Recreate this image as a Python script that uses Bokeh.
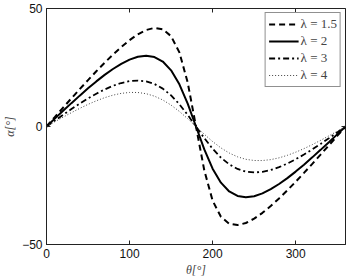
from bokeh.plotting import figure
from bokeh.models import LinearAxis, FixedTicker, Legend, LegendItem, Range1d, CustomJSTickFormatter
from bokeh.embed import file_html
from bokeh.resources import INLINE

# azimuth angle theta [deg]
theta = [0, 10, 20, 30, 40, 50, 60, 70, 80, 90, 100, 110, 120, 130, 140, 150, 160, 170,
         180, 190, 200, 210, 220, 230, 240, 250, 260, 270, 280, 290, 300, 310, 320, 330, 340, 350, 360]

# angle of attack alpha [deg] for each advance ratio
alpha_15 = [0.0, 4.00, 7.98, 11.93, 15.84, 19.67, 23.41, 27.02, 30.47, 33.69, 36.59, 39.06, 40.89, 41.78, 41.21, 38.27, 31.40, 18.63,
            0.0, -18.63, -31.40, -38.27, -41.21, -41.78, -40.89, -39.06, -36.59, -33.69, -30.47, -27.02, -23.41, -19.67, -15.84, -11.93, -7.98, -4.00, 0.0]
alpha_2 = [0.0, 3.33, 6.64, 9.90, 13.08, 16.17, 19.11, 21.86, 24.37, 26.57, 28.34, 29.55, 30.00, 29.44, 27.52, 23.79, 17.88, 9.71,
           0.0, -9.71, -17.88, -23.79, -27.52, -29.44, -30.00, -29.55, -28.34, -26.57, -24.37, -21.86, -19.11, -16.17, -13.08, -9.90, -6.64, -3.33, 0.0]
alpha_3 = [0.0, 2.50, 4.96, 7.37, 9.69, 11.88, 13.90, 15.70, 17.24, 18.43, 19.21, 19.47, 19.11, 18.00, 16.05, 13.19, 9.43, 4.92,
           0.0, -4.92, -9.43, -13.19, -16.05, -18.00, -19.11, -19.47, -19.21, -18.43, -17.24, -15.70, -13.90, -11.88, -9.69, -7.37, -4.96, -2.50, 0.0]
alpha_4 = [0.0, 2.00, 3.96, 5.87, 7.68, 9.37, 10.89, 12.21, 13.28, 14.04, 14.43, 14.41, 13.90, 12.85, 11.24, 9.06, 6.38, 3.30,
           0.0, -3.30, -6.38, -9.06, -11.24, -12.85, -13.90, -14.41, -14.43, -14.04, -13.28, -12.21, -10.89, -9.37, -7.68, -5.87, -3.96, -2.00, 0.0]

labels = ["λ = 1.5", "λ = 2", "λ = 3", "λ = 4"]
x_ticks = [0, 100, 200, 300]
y_ticks = [-50, 0, 50]

p = figure(width=348, height=280, output_backend="svg", toolbar_location=None,
           x_range=Range1d(0, 360), y_range=Range1d(-50, 50),
           min_border_left=43, min_border_right=3, min_border_top=8, min_border_bottom=36)
p.background_fill_color = "white"
p.border_fill_color = "white"
p.outline_line_color = "#222222"
p.outline_line_width = 1
p.xgrid.visible = False
p.ygrid.visible = False

# tick labels with a proper minus sign
minus_fmt = CustomJSTickFormatter(code="return tick < 0 ? '\\u2212' + Math.abs(tick) : String(tick);")

tick_font = "Liberation Sans"
for ax in (p.xaxis[0], p.yaxis[0]):
    ax.major_tick_in = 4
    ax.major_tick_out = 0
    ax.minor_tick_in = 0
    ax.minor_tick_out = 0
    ax.axis_line_color = "#222222"
    ax.major_tick_line_color = "#222222"
    ax.major_label_text_font = tick_font
    ax.major_label_text_font_size = "12px"
    ax.major_label_text_color = "#111111"
    ax.axis_label_text_font = "Liberation Serif"
    ax.axis_label_text_font_size = "12px"
    ax.axis_label_text_font_style = "italic"
    ax.formatter = minus_fmt

p.xaxis[0].ticker = FixedTicker(ticks=x_ticks)
p.yaxis[0].ticker = FixedTicker(ticks=y_ticks)
p.xaxis[0].axis_label = "θ[°]"
p.yaxis[0].axis_label = "α[°]"
p.xaxis[0].major_label_standoff = 4
p.xaxis[0].axis_label_standoff = 2
p.yaxis[0].major_label_standoff = 4
p.yaxis[0].axis_label_standoff = 2

# mirrored inward ticks on the top and right edges of the box (no labels drawn)
def mirror_axis(ticks):
    return LinearAxis(ticker=FixedTicker(ticks=ticks), major_tick_in=4, major_tick_out=0,
                      minor_tick_in=0, minor_tick_out=0,
                      major_label_text_font_size="1px", major_label_text_color=None,
                      axis_line_color=None, major_tick_line_color="#222222",
                      major_label_standoff=0)

p.add_layout(mirror_axis(x_ticks), "above")
p.add_layout(mirror_axis(y_ticks), "right")

r1 = p.line(theta, alpha_15, line_color="black", line_width=2, line_dash="6 4")
r2 = p.line(theta, alpha_2, line_color="black", line_width=2)
r3 = p.line(theta, alpha_3, line_color="black", line_width=1.8, line_dash="6 3 2 3")
r4 = p.line(theta, alpha_4, line_color="#444444", line_width=1, line_dash="1 2")

legend = Legend(items=[LegendItem(label=labels[0], renderers=[r1]),
                       LegendItem(label=labels[1], renderers=[r2]),
                       LegendItem(label=labels[2], renderers=[r3]),
                       LegendItem(label=labels[3], renderers=[r4])],
                location="top_right")
legend.label_text_font = "Liberation Serif"
legend.label_text_font_size = "13px"
legend.label_height = 10
legend.glyph_height = 10
legend.glyph_width = 30
legend.spacing = 1
legend.padding = 3
legend.margin = 4
legend.label_standoff = 2
legend.border_line_color = "#222222"
legend.border_line_width = 1
legend.background_fill_alpha = 1
p.add_layout(legend)

open("out.html", "w").write(file_html(p, INLINE))
